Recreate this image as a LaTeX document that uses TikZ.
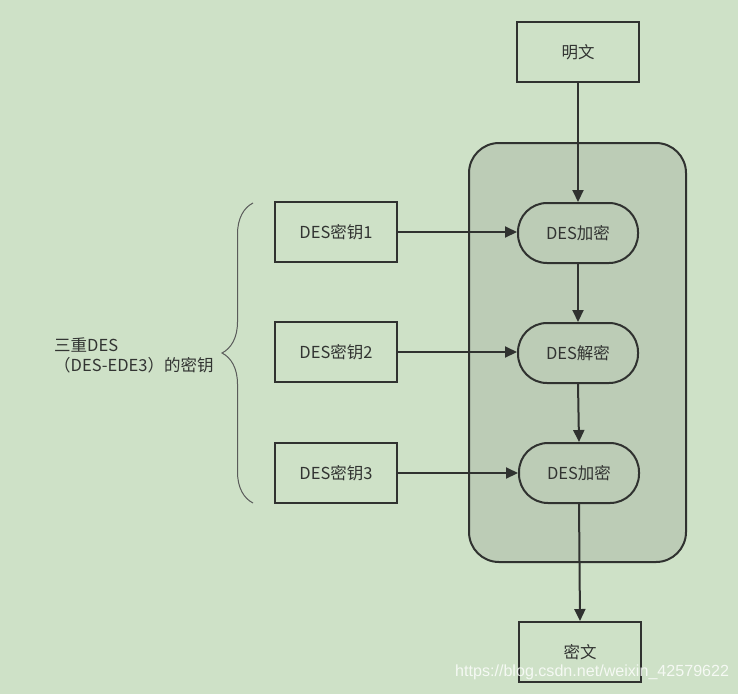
\documentclass[tikz,border=0pt]{standalone}
\usepackage{fontspec}
\setmainfont{Noto Sans CJK SC}
\newfontfamily\wmfont{Liberation Sans}
\usetikzlibrary{arrows.meta,decorations.pathreplacing}
\definecolor{bg}{RGB}{206,225,199}
\definecolor{boxfill}{RGB}{188,204,182}
\definecolor{ln}{RGB}{48,50,48}
\definecolor{tx}{RGB}{50,52,50}
\begin{document}
\begin{tikzpicture}[x=1pt,y=-1pt,
  every node/.style={font=\fontsize{16.5}{20}\selectfont, text=tx},
  sqbox/.style={draw=ln, line width=2pt, minimum width=122pt, minimum height=60pt, inner sep=0pt},
  stad/.style={draw=ln, line width=2pt, minimum width=120pt, minimum height=60pt, inner sep=0pt, rounded corners=29pt},
  conn/.style={draw=ln, line width=2pt, -{Triangle[length=12pt,width=11pt]}}]
\useasboundingbox (0,0) rectangle (738,694);
\fill[bg] (0,0) rectangle (738,694);
% container
\draw[ln, line width=2pt, fill=boxfill, rounded corners=30pt] (469,143) rectangle (686,562);
% nodes
\node[sqbox] (plain) at (578,52) {明文};
\node[stad] (enc1) at (578,233) {DES加密};
\node[stad] (dec) at (578,353) {DES解密};
\node[stad] (enc3) at (579,473) {DES加密};
\node[sqbox] (k1) at (336,232) {DES密钥1};
\node[sqbox] (k2) at (336,352) {DES密钥2};
\node[sqbox] (k3) at (336,473) {DES密钥3};
\node[sqbox] (cipher) at (580,652) {密文};
% connectors
\draw[conn] (plain.south) -- (enc1.north);
\draw[conn] (enc1.south) -- (dec.north);
\draw[conn] (dec.south) -- (enc3.north);
\draw[conn] (enc3.south) -- (cipher.north);
\draw[conn] (k1.east) -- (enc1.west |- k1.east);
\draw[conn] (k2.east) -- (dec.west |- k2.east);
\draw[conn] (k3.east) -- (enc3.west |- k3.east);
% brace
\coordinate (bb) at (253,503);
\coordinate (bt) at (253,203);
\draw[ln!80, line width=1pt, decorate, decoration={brace, amplitude=31pt}] (bb) -- (bt);
\node[anchor=west, align=left, inner sep=0pt] (lbl) at (54,355) {三重DES\\（DES-EDE3）的密钥};
% watermark
\node[anchor=west, inner sep=0pt, text=white, opacity=0.8, font=\wmfont\fontsize{16.1}{19}\selectfont] (wm) at (455,672) {https://blog.csdn.net/weixin\_42579622};
\end{tikzpicture}
\end{document}
